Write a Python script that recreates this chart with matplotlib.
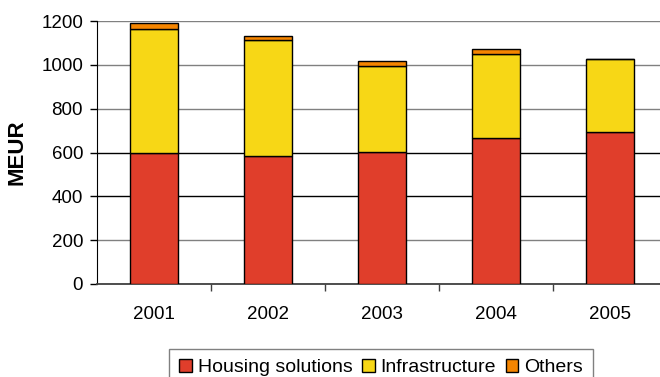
import numpy as np
import matplotlib.pyplot as plt

plt.rcParams['font.family'] = ['Liberation Sans', 'DejaVu Sans']

years = ['2001', '2002', '2003', '2004', '2005']
housing = [596, 584, 602, 667, 693]
infrastructure = [567, 528, 392, 381, 333]
others = [29, 21, 25, 24, 0]

series = [('Housing solutions', housing, '#E03E2B'),
          ('Infrastructure', infrastructure, '#F7D716'),
          ('Others', others, '#F58500')]

fig = plt.figure(figsize=(6.6, 3.77), dpi=100)
# plot area runs a little past the right edge of the figure
ax = fig.add_axes([97 / 660, 93 / 377, 570 / 660, 263 / 377])

x = np.arange(len(years))
bottom = np.zeros(len(years))
for name, vals, col in series:
    ax.bar(x, vals, 0.42, bottom=bottom, color=col, edgecolor='black',
           linewidth=1, label=name, zorder=3)
    bottom += np.array(vals)

ax.set_xlim(-0.5, len(years) - 0.5)
ax.set_ylim(0, 1200)
ax.set_yticks(range(0, 1201, 200))
ax.yaxis.grid(True, linewidth=1, zorder=0)
for val, line in zip(range(0, 1201, 200), ax.get_ygridlines()):
    line.set_color('black' if val in (400, 600) else '#808080')

ax.set_xticks(x)
ax.set_xticklabels(years)
ax.set_xticks(np.arange(0.5, len(years) - 0.5), minor=True)
ax.tick_params(axis='x', which='major', length=0, pad=16, labelsize=13.5)
ax.tick_params(axis='x', which='minor', length=5, width=1, color='#404040')
ax.tick_params(axis='y', length=5, width=1, pad=5, labelsize=13.5)

for side in ('top', 'right'):
    ax.spines[side].set_visible(False)
ax.spines['left'].set_color('black')
ax.spines['bottom'].set_color('#404040')
ax.spines['bottom'].set_linewidth(1.3)

ax.set_ylabel('MEUR', fontsize=16, fontweight='bold', labelpad=10)

fig.legend(loc='upper center', bbox_to_anchor=(381 / 660, 28 / 377),
           ncol=3, frameon=True, fancybox=False, edgecolor='#606060',
           fontsize=14, handlelength=0.65, handleheight=0.65,
           handletextpad=0.3, columnspacing=0.5, borderpad=0.5,
           borderaxespad=0)

fig.savefig('out.png', dpi=100)
